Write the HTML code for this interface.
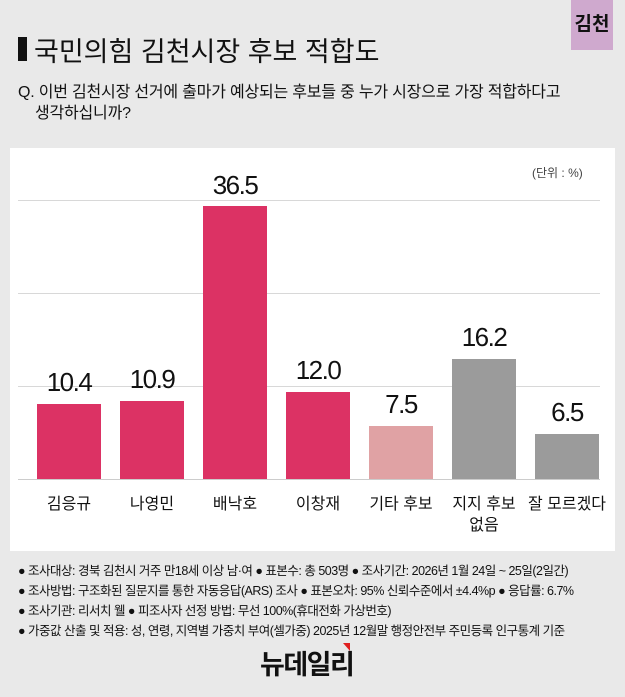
<!DOCTYPE html>
<html><head><meta charset="utf-8"><style>
body{margin:0;width:625px;height:697px;background:#e9e9e9;position:relative;overflow:hidden;font-family:"Liberation Sans","Noto Sans CJK KR",sans-serif;color:#111}
.a{position:absolute}
.bar{position:absolute;width:64px;bottom:218px}
.v{position:absolute;width:100px;text-align:center;font-size:26px;letter-spacing:-1.5px}
.l{position:absolute;width:100px;text-align:center;font-size:16px;line-height:21px}
.g{position:absolute;left:18px;width:582px;height:1px;background:#d8d8d8}
.n{position:absolute;left:18px;font-size:12.5px;letter-spacing:-0.5px;white-space:nowrap}
</style></head><body>
<div class="a" style="left:571px;top:0;width:42px;height:50px;background:#cfa9ce;font-size:19px;font-weight:bold;text-align:center;line-height:50px">김천</div>
<div class="a" style="left:18px;top:37px;width:9px;height:24px;background:#111"></div>
<div class="a" style="left:34px;top:30px;font-size:27px;letter-spacing:0px">국민의힘 김천시장 후보 적합도</div>
<div class="a" style="left:18px;top:82px;font-size:16px;line-height:21px;letter-spacing:-0.2px">Q. 이번 김천시장 선거에 출마가 예상되는 후보들 중 누가 시장으로 가장 적합하다고<br>&nbsp;&nbsp;&nbsp;&nbsp;생각하십니까?</div>
<div class="a" style="left:10px;top:148px;width:605px;height:403px;background:#fff"></div>
<div class="a" style="left:532px;top:164px;font-size:12px;color:#444">(단위 : %)</div>
<div class="g" style="top:200px"></div>
<div class="g" style="top:293px"></div>
<div class="g" style="top:386px"></div>
<div class="g" style="top:479px;background:#ccc"></div>
<div class="bar" style="left:37px;height:75px;background:#dc3264"></div>
<div class="bar" style="left:120px;height:78px;background:#dc3264"></div>
<div class="bar" style="left:203px;height:273px;background:#dc3264"></div>
<div class="bar" style="left:286px;height:87px;background:#dc3264"></div>
<div class="bar" style="left:369px;height:53px;background:#e0a2a4"></div>
<div class="bar" style="left:452px;height:120px;background:#9b9b9b"></div>
<div class="bar" style="left:535px;height:45px;background:#9b9b9b"></div>
<div class="v" style="left:19px;top:367px">10.4</div>
<div class="v" style="left:102px;top:364px">10.9</div>
<div class="v" style="left:185px;top:170px">36.5</div>
<div class="v" style="left:268px;top:355px">12.0</div>
<div class="v" style="left:351px;top:389px">7.5</div>
<div class="v" style="left:434px;top:322px">16.2</div>
<div class="v" style="left:517px;top:397px">6.5</div>
<div class="l" style="left:19px;top:494px">김응규</div>
<div class="l" style="left:102px;top:494px">나영민</div>
<div class="l" style="left:185px;top:494px">배낙호</div>
<div class="l" style="left:268px;top:494px">이창재</div>
<div class="l" style="left:351px;top:494px">기타 후보</div>
<div class="l" style="left:434px;top:494px">지지 후보<br>없음</div>
<div class="l" style="left:517px;top:494px">잘 모르겠다</div>
<div class="n" style="top:560px">● 조사대상: 경북 김천시 거주 만18세 이상 남·여 ● 표본수: 총 503명 ● 조사기간: 2026년 1월 24일 ~ 25일(2일간)</div>
<div class="n" style="top:580px">● 조사방법: 구조화된 질문지를 통한 자동응답(ARS) 조사 ● 표본오차: 95% 신뢰수준에서 ±4.4%p ● 응답률: 6.7%</div>
<div class="n" style="top:600px">● 조사기관: 리서치 웰 ● 피조사자 선정 방법: 무선 100%(휴대전화 가상번호)</div>
<div class="n" style="top:620px">● 가중값 산출 및 적용: 성, 연령, 지역별 가중치 부여(셀가중) 2025년 12월말 행정안전부 주민등록 인구통계 기준</div>
<div class="a" style="left:260px;top:643px;font-size:27px;font-weight:bold;letter-spacing:-1.5px">뉴데일리</div>
<div class="a" style="left:343px;top:643px;width:0;height:0;border-left:7px solid transparent;border-top:8px solid #e02020"></div>
</body></html>
